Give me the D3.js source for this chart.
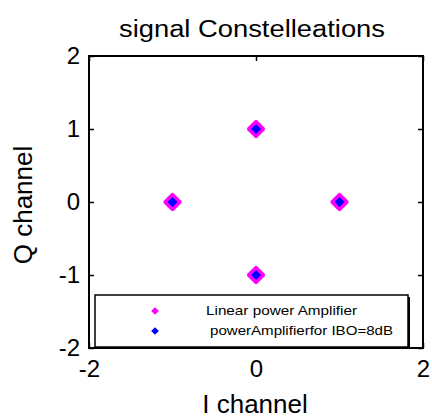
<!DOCTYPE html>
<html>
<head>
<meta charset="utf-8">
<script src="https://cdn.jsdelivr.net/npm/d3@7"></script>
<style>
  body { margin: 0; background: #fff; }
  text { font-family: Arial, "Liberation Sans", sans-serif; fill: #000; }
</style>
</head>
<body>
<div class="chart"></div>
<script>
// constellation points (I, Q)
var linearI = [0, -1, 1, 0];
var linearQ = [1, 0, 0, -1];
var paI = [0, -1, 1, 0];
var paQ = [1, 0, 0, -1];

var xTicks = [-2, 0, 2];
var yTicks = [-2, -1, 0, 1, 2];
var legendLabels = ["Linear power Amplifier", "powerAmplifierfor IBO=8dB"];
var legendColors = ["#ff00ff", "#0000ff"];

var svgWidth = 432;
var svgHeight = 419;

var margin = { top: 56, right: 9, bottom: 71, left: 89 };
var width = svgWidth - margin.left - margin.right;
var height = svgHeight - margin.top - margin.bottom;

var svg = d3.select(".chart")
  .append("svg")
  .attr("width", svgWidth)
  .attr("height", svgHeight);

var chartGroup = svg.append("g")
  .attr("transform", `translate(${margin.left}, ${margin.top})`);

var xScale = d3.scaleLinear().domain([-2, 2]).range([0, width]);
var yScale = d3.scaleLinear().domain([-2, 2]).range([height, 0]);

var fmt = d => String(d);

// axes with inward ticks
var bottomAxis = d3.axisBottom(xScale).tickValues(xTicks).tickFormat(fmt)
  .tickSizeInner(-5).tickSizeOuter(0).tickPadding(12);
var leftAxis = d3.axisLeft(yScale).tickValues(yTicks).tickFormat(fmt)
  .tickSizeInner(-5).tickSizeOuter(0).tickPadding(9);
var topAxis = d3.axisTop(xScale).tickValues(xTicks).tickFormat("")
  .tickSizeInner(-5).tickSizeOuter(0);
var rightAxis = d3.axisRight(yScale).tickValues(yTicks).tickFormat("")
  .tickSizeInner(-5).tickSizeOuter(0);

function styleAxis(g) {
  g.select(".domain").remove();
  g.selectAll("line").attr("stroke", "#000").attr("stroke-width", 1.5);
  g.selectAll("text").attr("font-size", 24).attr("fill", "#000")
    .style("font-family", "Arial, 'Liberation Sans', sans-serif");
}

chartGroup.append("g").attr("transform", `translate(0, ${height})`).call(bottomAxis).call(styleAxis);
chartGroup.append("g").call(leftAxis).call(styleAxis);
chartGroup.append("g").call(topAxis).call(styleAxis);
chartGroup.append("g").attr("transform", `translate(${width}, 0)`).call(rightAxis).call(styleAxis);

chartGroup.append("rect")
  .attr("width", width)
  .attr("height", height)
  .attr("fill", "none")
  .attr("stroke", "#000")
  .attr("stroke-width", 2);

// markers
var bigDiamond = d3.symbol().type(d3.symbolSquare).size(100);
var smallDiamond = d3.symbol().type(d3.symbolSquare).size(50);

chartGroup.selectAll(".lin")
  .data(linearI)
  .enter()
  .append("path")
  .attr("class", "lin")
  .attr("d", bigDiamond)
  .attr("transform", (d, i) => `translate(${xScale(d)}, ${yScale(linearQ[i])}) rotate(45)`)
  .attr("fill", legendColors[0])
  .attr("stroke", legendColors[0])
  .attr("stroke-width", 4)
  .attr("stroke-linejoin", "round");

chartGroup.selectAll(".pa")
  .data(paI)
  .enter()
  .append("path")
  .attr("class", "pa")
  .attr("d", smallDiamond)
  .attr("transform", (d, i) => `translate(${xScale(d)}, ${yScale(paQ[i])}) rotate(45)`)
  .attr("fill", legendColors[1]);

// legend
var legend = svg.append("g").attr("transform", "translate(95, 295)");

legend.append("rect")
  .attr("x", 2).attr("y", 2)
  .attr("width", 313).attr("height", 52)
  .attr("fill", "#000");

legend.append("rect")
  .attr("width", 313).attr("height", 52)
  .attr("fill", "#fff")
  .attr("stroke", "#000")
  .attr("stroke-width", 1.5);

var legendMarker = d3.symbol().type(d3.symbolSquare).size(30);

legendLabels.forEach(function(label, i) {
  legend.append("path")
    .attr("d", legendMarker)
    .attr("transform", `translate(60, ${16 + i * 20}) rotate(45)`)
    .attr("fill", legendColors[i]);
  legend.append("text")
    .attr("x", i === 0 ? 111 : 115)
    .attr("y", 20 + i * 20)
    .attr("font-size", 13)
    .attr("textLength", i === 0 ? 151 : 183)
    .attr("lengthAdjust", "spacingAndGlyphs")
    .text(label);
});

// title and axis labels
svg.append("text")
  .attr("x", 252)
  .attr("y", 37)
  .attr("text-anchor", "middle")
  .attr("font-size", 23)
  .attr("textLength", 266)
  .attr("lengthAdjust", "spacingAndGlyphs")
  .text("signal Constelleations");

svg.append("text")
  .attr("x", 255)
  .attr("y", 413)
  .attr("text-anchor", "middle")
  .attr("font-size", 26)
  .text("I channel");

svg.append("text")
  .attr("transform", "translate(32, 205) rotate(-90)")
  .attr("text-anchor", "middle")
  .attr("font-size", 26)
  .text("Q channel");
</script>
</body>
</html>
